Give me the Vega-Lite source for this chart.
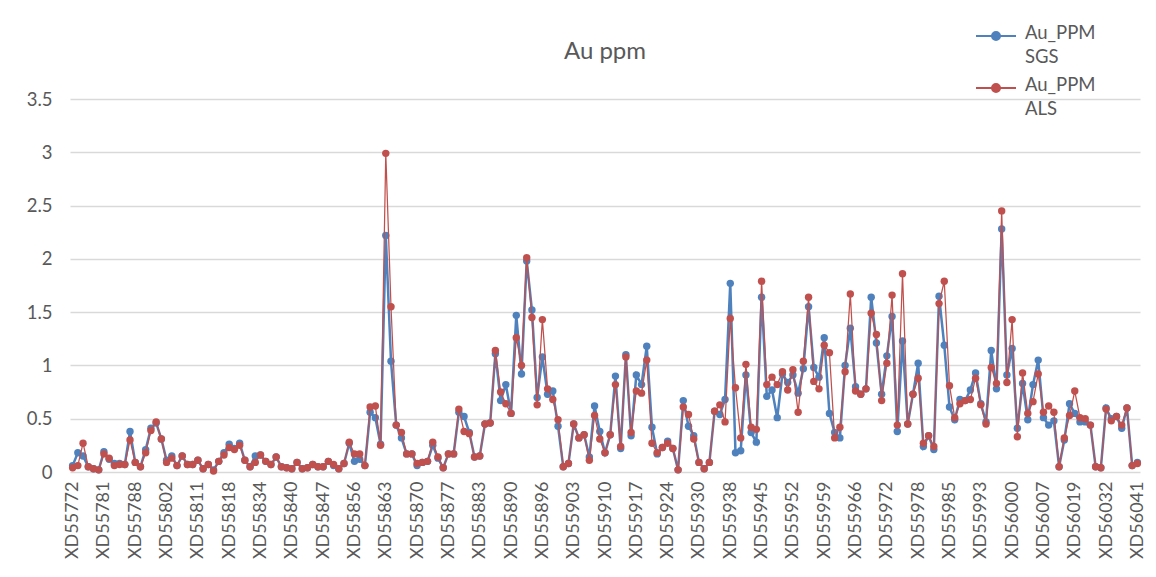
{
  "$schema": "https://vega.github.io/schema/vega-lite/v6.json",
  "width": 1070,
  "height": 373,
  "autosize": {"type": "none"},
  "padding": {"left": 70, "top": 99, "right": 16, "bottom": 105},
  "background": "white",
  "title": {"text": "Au ppm", "font": "Lato", "fontSize": 24, "fontWeight": "normal", "color": "#595959", "anchor": "middle", "offset": -68, "baseline": "alphabetic"},
  "data": {"values": [
    {"sample": "XD55772", "SGS": 0.06, "ALS": 0.04},
    {"sample": "XD55773", "SGS": 0.18, "ALS": 0.06},
    {"sample": "XD55774", "SGS": 0.15, "ALS": 0.27},
    {"sample": "XD55775", "SGS": 0.05, "ALS": 0.05},
    {"sample": "XD55776", "SGS": 0.03, "ALS": 0.03},
    {"sample": "XD55777", "SGS": 0.02, "ALS": 0.02},
    {"sample": "XD55781", "SGS": 0.19, "ALS": 0.17},
    {"sample": "XD55782", "SGS": 0.12, "ALS": 0.13},
    {"sample": "XD55783", "SGS": 0.08, "ALS": 0.06},
    {"sample": "XD55784", "SGS": 0.08, "ALS": 0.07},
    {"sample": "XD55785", "SGS": 0.07, "ALS": 0.07},
    {"sample": "XD55786", "SGS": 0.38, "ALS": 0.30},
    {"sample": "XD55788", "SGS": 0.09, "ALS": 0.09},
    {"sample": "XD55789", "SGS": 0.05, "ALS": 0.05},
    {"sample": "XD55790", "SGS": 0.21, "ALS": 0.18},
    {"sample": "XD55791", "SGS": 0.41, "ALS": 0.39},
    {"sample": "XD55792", "SGS": 0.46, "ALS": 0.47},
    {"sample": "XD55793", "SGS": 0.31, "ALS": 0.31},
    {"sample": "XD55802", "SGS": 0.11, "ALS": 0.09},
    {"sample": "XD55803", "SGS": 0.15, "ALS": 0.13},
    {"sample": "XD55804", "SGS": 0.06, "ALS": 0.06},
    {"sample": "XD55805", "SGS": 0.15, "ALS": 0.15},
    {"sample": "XD55806", "SGS": 0.07, "ALS": 0.07},
    {"sample": "XD55807", "SGS": 0.07, "ALS": 0.07},
    {"sample": "XD55811", "SGS": 0.11, "ALS": 0.11},
    {"sample": "XD55812", "SGS": 0.03, "ALS": 0.03},
    {"sample": "XD55813", "SGS": 0.07, "ALS": 0.07},
    {"sample": "XD55814", "SGS": 0.02, "ALS": 0.01},
    {"sample": "XD55815", "SGS": 0.10, "ALS": 0.10},
    {"sample": "XD55816", "SGS": 0.18, "ALS": 0.16},
    {"sample": "XD55818", "SGS": 0.26, "ALS": 0.23},
    {"sample": "XD55819", "SGS": 0.22, "ALS": 0.21},
    {"sample": "XD55820", "SGS": 0.27, "ALS": 0.25},
    {"sample": "XD55821", "SGS": 0.11, "ALS": 0.11},
    {"sample": "XD55822", "SGS": 0.05, "ALS": 0.05},
    {"sample": "XD55823", "SGS": 0.15, "ALS": 0.09},
    {"sample": "XD55834", "SGS": 0.16, "ALS": 0.16},
    {"sample": "XD55835", "SGS": 0.10, "ALS": 0.10},
    {"sample": "XD55836", "SGS": 0.07, "ALS": 0.07},
    {"sample": "XD55837", "SGS": 0.14, "ALS": 0.14},
    {"sample": "XD55838", "SGS": 0.05, "ALS": 0.05},
    {"sample": "XD55839", "SGS": 0.04, "ALS": 0.04},
    {"sample": "XD55840", "SGS": 0.03, "ALS": 0.03},
    {"sample": "XD55841", "SGS": 0.09, "ALS": 0.09},
    {"sample": "XD55842", "SGS": 0.03, "ALS": 0.03},
    {"sample": "XD55843", "SGS": 0.04, "ALS": 0.04},
    {"sample": "XD55844", "SGS": 0.07, "ALS": 0.07},
    {"sample": "XD55845", "SGS": 0.05, "ALS": 0.05},
    {"sample": "XD55847", "SGS": 0.05, "ALS": 0.05},
    {"sample": "XD55848", "SGS": 0.10, "ALS": 0.10},
    {"sample": "XD55849", "SGS": 0.06, "ALS": 0.07},
    {"sample": "XD55850", "SGS": 0.03, "ALS": 0.03},
    {"sample": "XD55851", "SGS": 0.08, "ALS": 0.08},
    {"sample": "XD55852", "SGS": 0.27, "ALS": 0.28},
    {"sample": "XD55856", "SGS": 0.10, "ALS": 0.17},
    {"sample": "XD55857", "SGS": 0.12, "ALS": 0.17},
    {"sample": "XD55858", "SGS": 0.06, "ALS": 0.06},
    {"sample": "XD55859", "SGS": 0.56, "ALS": 0.61},
    {"sample": "XD55860", "SGS": 0.51, "ALS": 0.62},
    {"sample": "XD55861", "SGS": 0.26, "ALS": 0.25},
    {"sample": "XD55863", "SGS": 2.22, "ALS": 2.99},
    {"sample": "XD55864", "SGS": 1.04, "ALS": 1.55},
    {"sample": "XD55865", "SGS": 0.44, "ALS": 0.44},
    {"sample": "XD55866", "SGS": 0.32, "ALS": 0.37},
    {"sample": "XD55867", "SGS": 0.17, "ALS": 0.17},
    {"sample": "XD55868", "SGS": 0.17, "ALS": 0.17},
    {"sample": "XD55870", "SGS": 0.06, "ALS": 0.08},
    {"sample": "XD55871", "SGS": 0.09, "ALS": 0.09},
    {"sample": "XD55872", "SGS": 0.10, "ALS": 0.10},
    {"sample": "XD55873", "SGS": 0.25, "ALS": 0.28},
    {"sample": "XD55874", "SGS": 0.13, "ALS": 0.14},
    {"sample": "XD55875", "SGS": 0.04, "ALS": 0.04},
    {"sample": "XD55877", "SGS": 0.17, "ALS": 0.17},
    {"sample": "XD55878", "SGS": 0.17, "ALS": 0.17},
    {"sample": "XD55879", "SGS": 0.56, "ALS": 0.59},
    {"sample": "XD55880", "SGS": 0.52, "ALS": 0.38},
    {"sample": "XD55881", "SGS": 0.37, "ALS": 0.36},
    {"sample": "XD55882", "SGS": 0.14, "ALS": 0.14},
    {"sample": "XD55883", "SGS": 0.15, "ALS": 0.15},
    {"sample": "XD55884", "SGS": 0.45, "ALS": 0.45},
    {"sample": "XD55885", "SGS": 0.46, "ALS": 0.46},
    {"sample": "XD55886", "SGS": 1.11, "ALS": 1.14},
    {"sample": "XD55887", "SGS": 0.67, "ALS": 0.75},
    {"sample": "XD55888", "SGS": 0.82, "ALS": 0.64},
    {"sample": "XD55890", "SGS": 0.55, "ALS": 0.55},
    {"sample": "XD55891", "SGS": 1.47, "ALS": 1.26},
    {"sample": "XD55892", "SGS": 0.92, "ALS": 1.00},
    {"sample": "XD55893", "SGS": 1.98, "ALS": 2.01},
    {"sample": "XD55894", "SGS": 1.52, "ALS": 1.45},
    {"sample": "XD55895", "SGS": 0.70, "ALS": 0.63},
    {"sample": "XD55896", "SGS": 1.08, "ALS": 1.43},
    {"sample": "XD55897", "SGS": 0.73, "ALS": 0.78},
    {"sample": "XD55898", "SGS": 0.76, "ALS": 0.68},
    {"sample": "XD55899", "SGS": 0.43, "ALS": 0.49},
    {"sample": "XD55900", "SGS": 0.05, "ALS": 0.05},
    {"sample": "XD55901", "SGS": 0.08, "ALS": 0.08},
    {"sample": "XD55903", "SGS": 0.45, "ALS": 0.45},
    {"sample": "XD55904", "SGS": 0.32, "ALS": 0.32},
    {"sample": "XD55905", "SGS": 0.35, "ALS": 0.35},
    {"sample": "XD55906", "SGS": 0.14, "ALS": 0.11},
    {"sample": "XD55907", "SGS": 0.62, "ALS": 0.53},
    {"sample": "XD55908", "SGS": 0.38, "ALS": 0.31},
    {"sample": "XD55910", "SGS": 0.18, "ALS": 0.18},
    {"sample": "XD55911", "SGS": 0.35, "ALS": 0.35},
    {"sample": "XD55912", "SGS": 0.90, "ALS": 0.82},
    {"sample": "XD55913", "SGS": 0.22, "ALS": 0.24},
    {"sample": "XD55914", "SGS": 1.10, "ALS": 1.08},
    {"sample": "XD55915", "SGS": 0.34, "ALS": 0.37},
    {"sample": "XD55917", "SGS": 0.91, "ALS": 0.76},
    {"sample": "XD55918", "SGS": 0.82, "ALS": 0.74},
    {"sample": "XD55919", "SGS": 1.18, "ALS": 1.05},
    {"sample": "XD55920", "SGS": 0.42, "ALS": 0.27},
    {"sample": "XD55921", "SGS": 0.17, "ALS": 0.18},
    {"sample": "XD55922", "SGS": 0.23, "ALS": 0.23},
    {"sample": "XD55924", "SGS": 0.29, "ALS": 0.27},
    {"sample": "XD55925", "SGS": 0.22, "ALS": 0.22},
    {"sample": "XD55926", "SGS": 0.02, "ALS": 0.02},
    {"sample": "XD55927", "SGS": 0.67, "ALS": 0.61},
    {"sample": "XD55928", "SGS": 0.43, "ALS": 0.54},
    {"sample": "XD55929", "SGS": 0.34, "ALS": 0.31},
    {"sample": "XD55930", "SGS": 0.09, "ALS": 0.09},
    {"sample": "XD55931", "SGS": 0.03, "ALS": 0.03},
    {"sample": "XD55932", "SGS": 0.09, "ALS": 0.09},
    {"sample": "XD55933", "SGS": 0.57, "ALS": 0.57},
    {"sample": "XD55934", "SGS": 0.54, "ALS": 0.63},
    {"sample": "XD55935", "SGS": 0.68, "ALS": 0.47},
    {"sample": "XD55938", "SGS": 1.77, "ALS": 1.44},
    {"sample": "XD55939", "SGS": 0.18, "ALS": 0.79},
    {"sample": "XD55940", "SGS": 0.20, "ALS": 0.32},
    {"sample": "XD55941", "SGS": 0.91, "ALS": 1.01},
    {"sample": "XD55942", "SGS": 0.37, "ALS": 0.42},
    {"sample": "XD55943", "SGS": 0.28, "ALS": 0.40},
    {"sample": "XD55945", "SGS": 1.64, "ALS": 1.79},
    {"sample": "XD55946", "SGS": 0.71, "ALS": 0.82},
    {"sample": "XD55947", "SGS": 0.77, "ALS": 0.89},
    {"sample": "XD55948", "SGS": 0.51, "ALS": 0.82},
    {"sample": "XD55949", "SGS": 0.92, "ALS": 0.94},
    {"sample": "XD55950", "SGS": 0.84, "ALS": 0.77},
    {"sample": "XD55952", "SGS": 0.91, "ALS": 0.96},
    {"sample": "XD55953", "SGS": 0.74, "ALS": 0.56},
    {"sample": "XD55954", "SGS": 0.97, "ALS": 1.04},
    {"sample": "XD55955", "SGS": 1.55, "ALS": 1.64},
    {"sample": "XD55956", "SGS": 0.98, "ALS": 0.85},
    {"sample": "XD55957", "SGS": 0.89, "ALS": 0.78},
    {"sample": "XD55959", "SGS": 1.26, "ALS": 1.19},
    {"sample": "XD55960", "SGS": 0.55, "ALS": 1.12},
    {"sample": "XD55961", "SGS": 0.37, "ALS": 0.32},
    {"sample": "XD55962", "SGS": 0.32, "ALS": 0.42},
    {"sample": "XD55963", "SGS": 1.00, "ALS": 0.94},
    {"sample": "XD55964", "SGS": 1.35, "ALS": 1.67},
    {"sample": "XD55966", "SGS": 0.80, "ALS": 0.76},
    {"sample": "XD55967", "SGS": 0.73, "ALS": 0.73},
    {"sample": "XD55968", "SGS": 0.78, "ALS": 0.78},
    {"sample": "XD55969", "SGS": 1.64, "ALS": 1.49},
    {"sample": "XD55970", "SGS": 1.21, "ALS": 1.29},
    {"sample": "XD55971", "SGS": 0.73, "ALS": 0.67},
    {"sample": "XD55972", "SGS": 1.09, "ALS": 1.02},
    {"sample": "XD55973", "SGS": 1.46, "ALS": 1.66},
    {"sample": "XD55974", "SGS": 0.38, "ALS": 0.44},
    {"sample": "XD55975", "SGS": 1.23, "ALS": 1.86},
    {"sample": "XD55976", "SGS": 0.45, "ALS": 0.45},
    {"sample": "XD55977", "SGS": 0.73, "ALS": 0.73},
    {"sample": "XD55978", "SGS": 1.02, "ALS": 0.88},
    {"sample": "XD55979", "SGS": 0.24, "ALS": 0.27},
    {"sample": "XD55980", "SGS": 0.34, "ALS": 0.34},
    {"sample": "XD55981", "SGS": 0.21, "ALS": 0.24},
    {"sample": "XD55982", "SGS": 1.65, "ALS": 1.58},
    {"sample": "XD55983", "SGS": 1.19, "ALS": 1.79},
    {"sample": "XD55985", "SGS": 0.61, "ALS": 0.81},
    {"sample": "XD55986", "SGS": 0.49, "ALS": 0.51},
    {"sample": "XD55987", "SGS": 0.68, "ALS": 0.64},
    {"sample": "XD55988", "SGS": 0.67, "ALS": 0.67},
    {"sample": "XD55989", "SGS": 0.77, "ALS": 0.68},
    {"sample": "XD55990", "SGS": 0.93, "ALS": 0.88},
    {"sample": "XD55993", "SGS": 0.64, "ALS": 0.63},
    {"sample": "XD55994", "SGS": 0.47, "ALS": 0.45},
    {"sample": "XD55995", "SGS": 1.14, "ALS": 0.98},
    {"sample": "XD55996", "SGS": 0.78, "ALS": 0.83},
    {"sample": "XD55997", "SGS": 2.28, "ALS": 2.45},
    {"sample": "XD55998", "SGS": 0.91, "ALS": 0.84},
    {"sample": "XD56000", "SGS": 1.16, "ALS": 1.43},
    {"sample": "XD56001", "SGS": 0.41, "ALS": 0.33},
    {"sample": "XD56002", "SGS": 0.83, "ALS": 0.93},
    {"sample": "XD56003", "SGS": 0.49, "ALS": 0.55},
    {"sample": "XD56004", "SGS": 0.82, "ALS": 0.66},
    {"sample": "XD56005", "SGS": 1.05, "ALS": 0.92},
    {"sample": "XD56007", "SGS": 0.51, "ALS": 0.56},
    {"sample": "XD56008", "SGS": 0.44, "ALS": 0.62},
    {"sample": "XD56009", "SGS": 0.48, "ALS": 0.56},
    {"sample": "XD56010", "SGS": 0.05, "ALS": 0.05},
    {"sample": "XD56011", "SGS": 0.30, "ALS": 0.32},
    {"sample": "XD56012", "SGS": 0.64, "ALS": 0.53},
    {"sample": "XD56019", "SGS": 0.55, "ALS": 0.76},
    {"sample": "XD56020", "SGS": 0.47, "ALS": 0.51},
    {"sample": "XD56021", "SGS": 0.47, "ALS": 0.50},
    {"sample": "XD56022", "SGS": 0.44, "ALS": 0.44},
    {"sample": "XD56023", "SGS": 0.05, "ALS": 0.05},
    {"sample": "XD56024", "SGS": 0.04, "ALS": 0.04},
    {"sample": "XD56032", "SGS": 0.60, "ALS": 0.59},
    {"sample": "XD56033", "SGS": 0.50, "ALS": 0.48},
    {"sample": "XD56034", "SGS": 0.52, "ALS": 0.52},
    {"sample": "XD56035", "SGS": 0.41, "ALS": 0.44},
    {"sample": "XD56036", "SGS": 0.60, "ALS": 0.60},
    {"sample": "XD56037", "SGS": 0.06, "ALS": 0.06},
    {"sample": "XD56041", "SGS": 0.09, "ALS": 0.08}
  ]},
  "transform": [{"fold": ["SGS", "ALS"], "as": ["series", "value"]}],
  "encoding": {
    "x": {
      "field": "sample", "type": "nominal", "sort": null,
      "scale": {"type": "point", "padding": 0.5},
      "axis": {
        "title": null,
        "values": ["XD55772","XD55781","XD55788","XD55802","XD55811","XD55818","XD55834","XD55840","XD55847","XD55856","XD55863","XD55870","XD55877","XD55883","XD55890","XD55896","XD55903","XD55910","XD55917","XD55924","XD55930","XD55938","XD55945","XD55952","XD55959","XD55966","XD55972","XD55978","XD55985","XD55993","XD56000","XD56007","XD56019","XD56032","XD56041"],
        "labelAngle": -90, "labelFont": "Lato", "labelFontSize": 18, "labelColor": "#595959",
        "labelPadding": 9, "labelOverlap": false, "ticks": false, "domain": false, "grid": false
      }
    },
    "y": {
      "field": "value", "type": "quantitative",
      "scale": {"domain": [0, 3.5], "nice": false},
      "axis": {
        "title": null, "values": [0, 0.5, 1, 1.5, 2, 2.5, 3, 3.5], "format": "~g",
        "labelFont": "Lato", "labelFontSize": 18.5, "labelColor": "#595959", "labelPadding": 18,
        "domain": false, "ticks": false, "grid": true, "gridColor": "#D9D9D9", "gridWidth": 1.3
      }
    },
    "color": {
      "field": "series", "type": "nominal",
      "scale": {"domain": ["SGS", "ALS"], "range": ["#4F81BD", "#C0504D"]},
      "legend": {
        "orient": "none", "legendX": 905, "legendY": -84, "title": null, "padding": 0,
        "symbolType": "M-1,0L1,0M-0.2,0A0.2,0.2,0,1,1,0.2,0A0.2,0.2,0,1,1,-0.2,0Z",
        "symbolSize": 1600, "symbolStrokeWidth": 2,
        "labelExpr": "['Au_PPM', datum.label]",
        "labelFont": "Lato", "labelFontSize": 18.5, "labelColor": "#595959",
        "labelBaseline": "top", "labelOffset": 8, "rowPadding": 0,
        "encode": {
          "symbols": {"update": {"fill": {"scale": "color", "field": "value"}, "stroke": {"scale": "color", "field": "value"}, "opacity": {"value": 1}}},
          "labels": {"update": {"dy": {"value": -12}, "lineHeight": {"value": 24}}}
        }
      }
    }
  },
  "layer": [
    {"transform": [{"filter": {"field": "series", "equal": "SGS"}}], "mark": {"type": "line", "strokeWidth": 2.5}},
    {"transform": [{"filter": {"field": "series", "equal": "SGS"}}], "mark": {"type": "point", "filled": true, "size": 55, "opacity": 1}},
    {"transform": [{"filter": {"field": "series", "equal": "ALS"}}], "mark": {"type": "line", "strokeWidth": 1.25}},
    {"transform": [{"filter": {"field": "series", "equal": "ALS"}}], "mark": {"type": "point", "filled": true, "size": 55, "opacity": 1}}
  ],
  "config": {"view": {"stroke": null}}
}
